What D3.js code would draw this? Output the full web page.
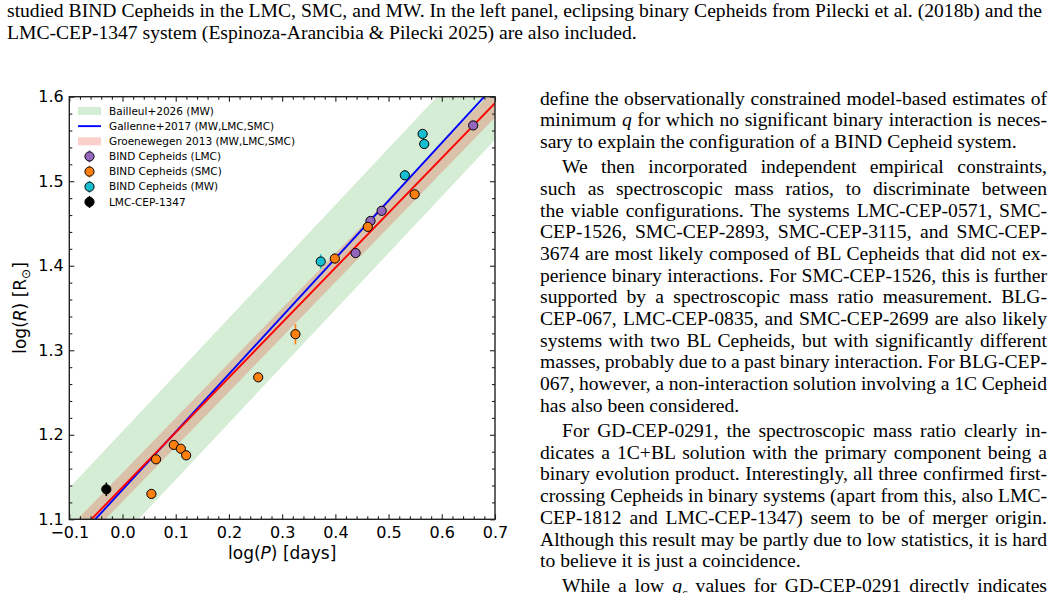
<!DOCTYPE html>
<html><head><meta charset="utf-8">
<script src="https://cdn.jsdelivr.net/npm/d3@7"></script>
<style>
body{margin:0;width:1058px;height:593px;overflow:hidden;background:#fff;position:relative;font-family:"Liberation Serif","Times New Roman",serif;color:#000}
.ln{position:absolute;white-space:nowrap;font-size:19.6px;line-height:22px}
.ln span{display:inline-block}
svg text{font-family:"DejaVu Sans",sans-serif;fill:#000}
</style></head><body>
<div id="txt"></div>
<svg id="chart" width="1058" height="593" style="position:absolute;left:0;top:0"></svg>
<script>
// ---------------- data ----------------
const lmcLogP = [0.659, 0.466, 0.487, 0.438];
const lmcLogR = [1.566, 1.453, 1.465, 1.415];
const lmcErr  = [0.004, 0.004, 0.004, 0.004];

const smcLogP = [0.549, 0.461, 0.399, 0.325, 0.255, 0.0964, 0.1096, 0.1196, 0.063, 0.0543];
const smcLogR = [1.4845, 1.446, 1.4085, 1.319, 1.268, 1.188, 1.1835, 1.1757, 1.171, 1.130];
const smcErr  = [0.005, 0.005, 0.006, 0.012, 0.004, 0.004, 0.005, 0.004, 0.004, 0.006];

const mwLogP = [0.564, 0.567, 0.5306, 0.3725];
const mwLogR = [1.556, 1.544, 1.507, 1.405];
const mwErr  = [0.004, 0.004, 0.006, 0.0085];

const ebLogP = [-0.0304];
const ebLogR = [1.1355];
const ebErr  = [0.008];

// relations: log R = slope * log P + intercept (band = +/- halfWidth)
const relNames      = ["Bailleul+2026 (MW)", "Gallenne+2017 (MW,LMC,SMC)", "Groenewegen 2013 (MW,LMC,SMC)"];
const relSlopes     = [0.670, 0.684, 0.649];
const relIntercepts = [1.142, 1.135, 1.138];
const relHalfWidths = [0.062, 0, 0.017];

const seriesNames = ["BIND Cepheids (LMC)", "BIND Cepheids (SMC)", "BIND Cepheids (MW)", "LMC-CEP-1347"];

const xTicks = [-0.1, 0.0, 0.1, 0.2, 0.3, 0.4, 0.5, 0.6, 0.7];
const xTickLabels = ["\u22120.1", "0.0", "0.1", "0.2", "0.3", "0.4", "0.5", "0.6", "0.7"];
const yTicks = [1.1, 1.2, 1.3, 1.4, 1.5, 1.6];
const yTickLabels = ["1.1", "1.2", "1.3", "1.4", "1.5", "1.6"];

// ---------------- page text ----------------
const captionLines = [
  ["studied BIND Cepheids in the LMC, SMC, and MW. In the left panel, eclipsing binary Cepheids from Pilecki et al. (2018b) and the", true],
  ["LMC-CEP-1347 system (Espinoza-Arancibia &amp; Pilecki 2025) are also included.", false]
];
// [html, justify, startsParagraph]
const colLines = [
  ["define the observationally constrained model-based estimates of", true, false],
  ["minimum <i>q</i> for which no significant binary interaction is neces-", true, false],
  ["sary to explain the configuration of a BIND Cepheid system.", false, false],
  ["We then incorporated independent empirical constraints,", true, true],
  ["such as spectroscopic mass ratios, to discriminate between", true, false],
  ["the viable configurations. The systems LMC-CEP-0571, SMC-", true, false],
  ["CEP-1526, SMC-CEP-2893, SMC-CEP-3115, and SMC-CEP-", true, false],
  ["3674 are most likely composed of BL Cepheids that did not ex-", true, false],
  ["perience binary interactions. For SMC-CEP-1526, this is further", true, false],
  ["supported by a spectroscopic mass ratio measurement. BLG-", true, false],
  ["CEP-067, LMC-CEP-0835, and SMC-CEP-2699 are also likely", true, false],
  ["systems with two BL Cepheids, but with significantly different", true, false],
  ["masses, probably due to a past binary interaction. For BLG-CEP-", true, false],
  ["067, however, a non-interaction solution involving a 1C Cepheid", true, false],
  ["has also been considered.", false, false],
  ["For GD-CEP-0291, the spectroscopic mass ratio clearly in-", true, true],
  ["dicates a 1C+BL solution with the primary component being a", true, false],
  ["binary evolution product. Interestingly, all three confirmed first-", true, false],
  ["crossing Cepheids in binary systems (apart from this, also LMC-", true, false],
  ["CEP-1812 and LMC-CEP-1347) seem to be of merger origin.", true, false],
  ["Although this result may be partly due to low statistics, it is hard", true, false],
  ["to believe it is just a coincidence.", false, false],
  ["While a low <i>q</i><sub style=\"font-size:12px\">c</sub> values for GD-CEP-0291 directly indicates", true, true]
];

const txt = d3.select("#txt");
function placeLine(html, left, width, centerY, justify, indent) {
  const d = txt.append("div").attr("class", "ln")
    .style("left", (left + indent) + "px").style("top", (centerY - 12) + "px");
  const s = d.append("span").html(html);
  if (justify) {
    const target = width - indent;
    const natural = s.node().getBoundingClientRect().width;
    const spaces = (s.node().textContent.match(/ /g) || []).length;
    if (spaces > 0) s.style("word-spacing", ((target - natural) / spaces) + "px");
  }
}
captionLines.forEach((l, i) => placeLine(l[0], 7, 1035, 12 + i * 22, l[1], 0));
let paraCount = 0;
colLines.forEach((l, i) => {
  if (l[2]) paraCount++;
  placeLine(l[0], 540, 507, 99.5 + i * 21.7 + paraCount * 3.5, l[1], l[2] ? 22 : 0);
});

// ---------------- chart ----------------
const svg = d3.select("#chart");
const L = 69.3, R = 495, T = 96.7, B = 519.3;
const x = d3.scaleLinear().domain([-0.1, 0.7]).range([L, R]);
const y = d3.scaleLinear().domain([1.1, 1.6]).range([B, T]);

svg.append("defs").append("clipPath").attr("id", "clip")
  .append("rect").attr("x", L).attr("y", T).attr("width", R - L).attr("height", B - T);
const plot = svg.append("g").attr("clip-path", "url(#clip)");

const xs = [-0.2, 0.8];
const bandColors = ["rgba(44,160,44,0.2)", null, "rgba(235,40,20,0.22)"];
const lineColors = [null, "#0000ff", "#ff0000"];
[0, 2].forEach(k => {
  const area = d3.area().x(d => x(d))
    .y0(d => y(relSlopes[k] * d + relIntercepts[k] - relHalfWidths[k]))
    .y1(d => y(relSlopes[k] * d + relIntercepts[k] + relHalfWidths[k]));
  plot.append("path").datum(xs).attr("d", area).attr("fill", bandColors[k]);
});
[1, 2].forEach(k => {
  const line = d3.line().x(d => x(d)).y(d => y(relSlopes[k] * d + relIntercepts[k]));
  plot.append("path").datum(xs).attr("d", line).attr("fill", "none")
    .attr("stroke", lineColors[k]).attr("stroke-width", 1.9);
});

// axes ticks (inward, all sides)
const minorX = d3.range(-0.1, 0.7001, 0.02).filter(v => Math.abs(Math.round(v * 10) - v * 10) > 1e-6);
const minorY = d3.range(1.1, 1.6001, 0.02).filter(v => Math.abs(Math.round(v * 10) - v * 10) > 1e-6);
function axisG(axis, tx, ty) {
  const g = svg.append("g").attr("transform", `translate(${tx},${ty})`).call(axis);
  g.select(".domain").remove();
  g.selectAll("line").attr("stroke", "#222").attr("stroke-width", 1.1);
  return g;
}
const gxb = axisG(d3.axisBottom(x).tickValues(xTicks).tickSize(-5).tickFormat((d, i) => xTickLabels[i]).tickPadding(7), 0, B);
gxb.selectAll("text").attr("font-size", 16).attr("font-family", "DejaVu Sans");
axisG(d3.axisBottom(x).tickValues(minorX).tickSize(-3).tickFormat(""), 0, B);
axisG(d3.axisTop(x).tickValues(xTicks).tickSize(-5).tickFormat(""), 0, T);
axisG(d3.axisTop(x).tickValues(minorX).tickSize(-3).tickFormat(""), 0, T);
const gyl = axisG(d3.axisLeft(y).tickValues(yTicks).tickSize(-5).tickFormat((d, i) => yTickLabels[i]).tickPadding(5.5), L, 0);
gyl.selectAll("text").attr("font-size", 16).attr("font-family", "DejaVu Sans");
axisG(d3.axisLeft(y).tickValues(minorY).tickSize(-3).tickFormat(""), L, 0);
axisG(d3.axisRight(y).tickValues(yTicks).tickSize(-5).tickFormat(""), R, 0);
axisG(d3.axisRight(y).tickValues(minorY).tickSize(-3).tickFormat(""), R, 0);

svg.append("rect").attr("x", L).attr("y", T).attr("width", R - L).attr("height", B - T)
  .attr("fill", "none").attr("stroke", "#222").attr("stroke-width", 1.4);

// data points
const series = [
  {p: lmcLogP, r: lmcLogR, e: lmcErr, c: "#9467bd"},
  {p: smcLogP, r: smcLogR, e: smcErr, c: "#ff7f0e"},
  {p: mwLogP,  r: mwLogR,  e: mwErr,  c: "#17becf"},
  {p: ebLogP,  r: ebLogR,  e: ebErr,  c: "#000000"}
];
const pg = svg.append("g");
series.forEach(S => {
  S.p.forEach((pv, i) => {
    pg.append("line").attr("x1", x(pv)).attr("x2", x(pv))
      .attr("y1", y(S.r[i] - S.e[i])).attr("y2", y(S.r[i] + S.e[i]))
      .attr("stroke", S.c).attr("stroke-width", 1.6);
  });
  S.p.forEach((pv, i) => {
    pg.append("circle").attr("cx", x(pv)).attr("cy", y(S.r[i])).attr("r", 4.6)
      .attr("fill", S.c).attr("stroke", "#000").attr("stroke-width", 1);
  });
});

// legend
const lg = svg.append("g");
const ly0 = 111, ldy = 15.15, lx = 78, lw = 23, ltx = 109;
const legendKinds = ["band", "line", "band", "pt", "pt", "pt", "pt"];
const legendLabels = relNames.concat(seriesNames);
const legendColors = [bandColors[0], lineColors[1], bandColors[2]].concat(series.map(s => s.c));
legendLabels.forEach((lab, i) => {
  const yy = ly0 + i * ldy;
  const k = legendKinds[i];
  if (k === "band") lg.append("rect").attr("x", lx).attr("y", yy - 4).attr("width", lw).attr("height", 8).attr("fill", legendColors[i]);
  else if (k === "line") lg.append("line").attr("x1", lx).attr("x2", lx + lw).attr("y1", yy).attr("y2", yy).attr("stroke", legendColors[i]).attr("stroke-width", 1.9);
  else {
    lg.append("line").attr("x1", lx + 11.5).attr("x2", lx + 11.5).attr("y1", yy - 6).attr("y2", yy + 6).attr("stroke", legendColors[i]).attr("stroke-width", 1.6);
    lg.append("circle").attr("cx", lx + 11.5).attr("cy", yy).attr("r", 4.6).attr("fill", legendColors[i]).attr("stroke", "#000").attr("stroke-width", 1);
  }
  lg.append("text").attr("x", ltx).attr("y", yy).attr("dy", "0.35em").attr("font-size", 10.5).text(lab);
});

// axis labels
const xl = svg.append("text").attr("x", (L + R) / 2).attr("y", 559).attr("text-anchor", "middle").attr("font-size", 17);
xl.append("tspan").text("log(");
xl.append("tspan").attr("font-style", "italic").text("P");
xl.append("tspan").text(") [days]");
const yl = svg.append("text").attr("transform", `translate(26,${(T + B) / 2}) rotate(-90)`).attr("text-anchor", "middle").attr("font-size", 17);
yl.append("tspan").text("log(");
yl.append("tspan").attr("font-style", "italic").text("R");
yl.append("tspan").text(") [R");
yl.append("tspan").attr("font-size", 12).attr("dy", 4).text("\u2299");
yl.append("tspan").attr("dy", -4).text("]");
</script>
</body></html>
